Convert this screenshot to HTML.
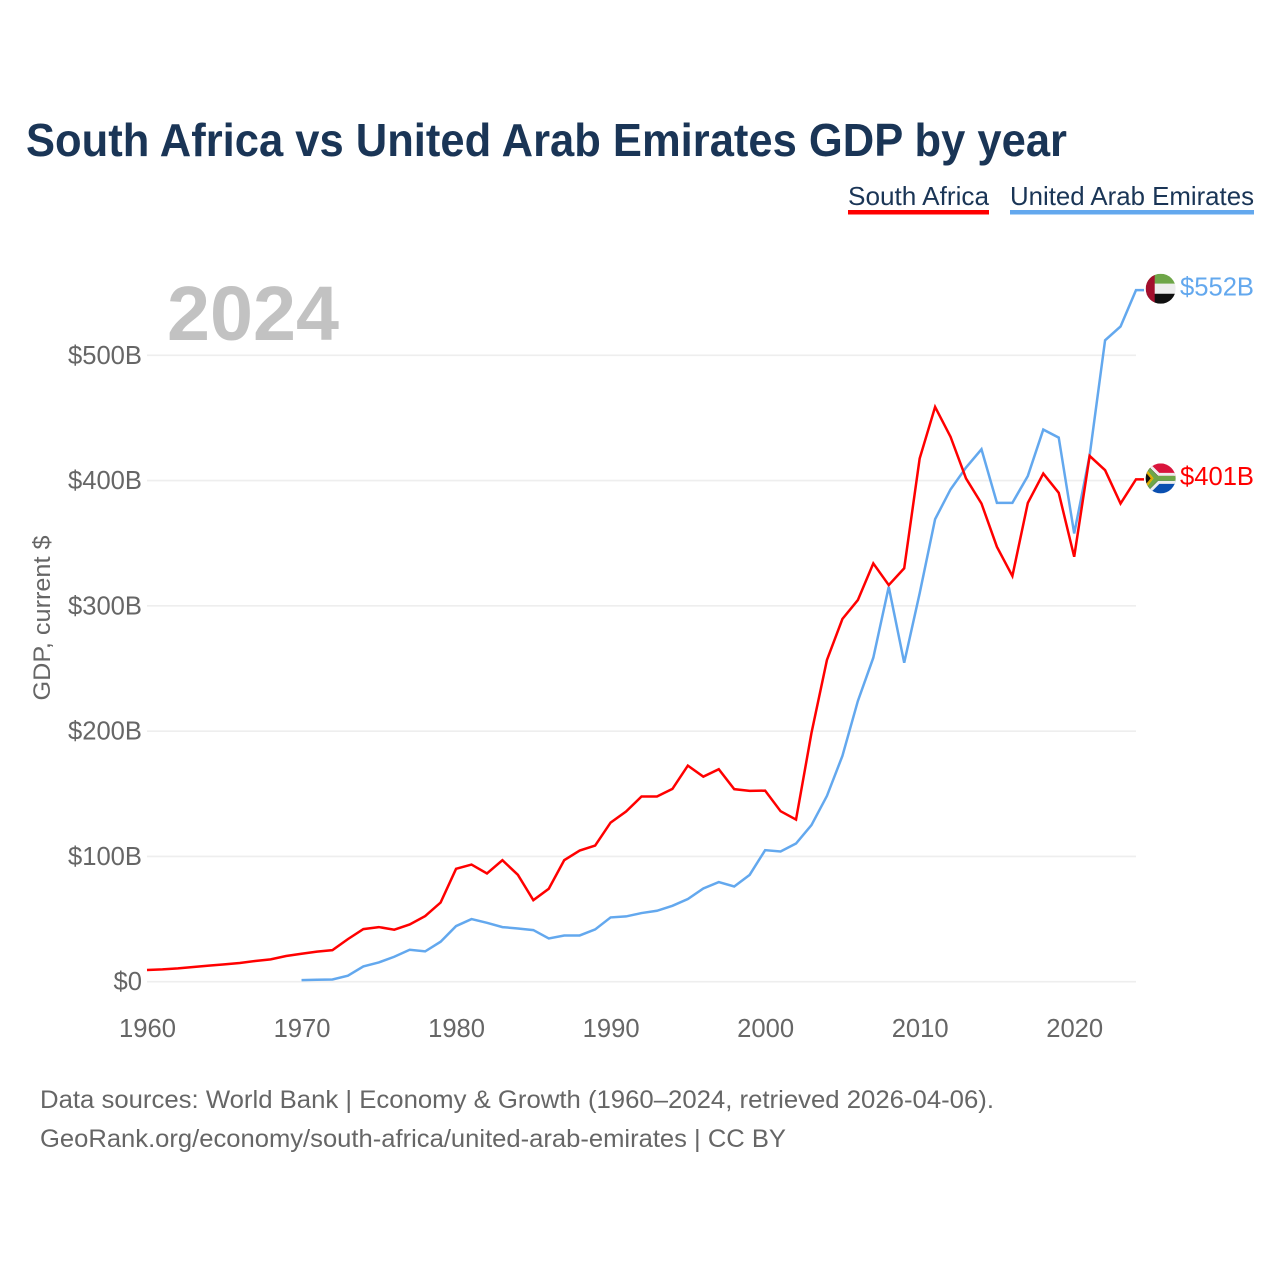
<!DOCTYPE html>
<html lang="en">
<head>
<meta charset="utf-8">
<title>South Africa vs United Arab Emirates GDP by year</title>
<style>
html,body{margin:0;padding:0;background:#fff;}
svg{display:block;font-family:"Liberation Sans",sans-serif;}
</style>
</head>
<body>
<svg id="chart" xmlns="http://www.w3.org/2000/svg" width="1280" height="1280" viewBox="0 0 1280 1280">
  <defs>
    <clipPath id="flag-clip-uae"><circle cx="15" cy="15" r="15"/></clipPath>
    <clipPath id="flag-clip-za"><circle cx="15" cy="15" r="15"/></clipPath>
  </defs>
  <rect width="1280" height="1280" fill="#fff"/>
  <text x="26" y="156" font-size="46" font-weight="700" fill="#1a3556" textLength="1041" lengthAdjust="spacingAndGlyphs">South Africa vs United Arab Emirates GDP by year</text>

  <g>
    <text x="848" y="205" font-size="26" fill="#1a3556" textLength="141" lengthAdjust="spacingAndGlyphs">South Africa</text>
    <rect x="848" y="210" width="141" height="4.5" fill="#ff0000"/>
  </g>
  <g>
    <text x="1010" y="205" font-size="26" fill="#1a3556" textLength="244" lengthAdjust="spacingAndGlyphs">United Arab Emirates</text>
    <rect x="1010" y="210" width="244" height="4.5" fill="#63a8ee"/>
  </g>

  <text x="167" y="340" font-size="77" font-weight="700" fill="#c2c2c2" textLength="172" lengthAdjust="spacingAndGlyphs">2024</text>

  <text transform="translate(50,618) rotate(-90)" text-anchor="middle" font-size="24" fill="#666" textLength="165" lengthAdjust="spacingAndGlyphs">GDP, current $</text>

  <g id="grid"></g>
  <g id="y-ticks"></g>
  <g id="x-ticks"></g>
  <g id="series"></g>

  <g id="flag-uae">
    <g clip-path="url(#flag-clip-uae)">
      <rect x="0" y="0" width="30" height="10" fill="#6ea648"/>
      <rect x="0" y="10" width="30" height="10" fill="#eeeeee"/>
      <rect x="0" y="20" width="30" height="10" fill="#0f0f0f"/>
      <rect x="0" y="0" width="9" height="30" fill="#a30f2d"/>
    </g>
  </g>
  <g id="flag-za">
    <g clip-path="url(#flag-clip-za)">
      <rect x="0" y="0" width="30" height="15" fill="#d9143c"/>
      <rect x="0" y="15" width="30" height="15" fill="#0a4fb0"/>
      <path d="M0 0 L15 15 L0 30 Z" fill="#111"/>
      <path d="M2 0 L13 11 L30 11 L30 19 L13 19 L2 30" fill="none" stroke="#eeeeee" stroke-width="3"/>
      <path d="M0 4 L11 15 L0 26 M11 15 L30 15" fill="none" stroke="#6ea648" stroke-width="5"/>
      <path d="M0 5 L8 15 L0 25" fill="#f2b900" opacity="0.9"/>
      <path d="M0 9 L5 15 L0 21 Z" fill="#111"/>
    </g>
  </g>

  <text id="label-uae" x="1180" font-size="26" fill="#63a8ee" textLength="74" lengthAdjust="spacingAndGlyphs"></text>
  <text id="label-za" x="1180" font-size="26" fill="#ff0000" textLength="74" lengthAdjust="spacingAndGlyphs"></text>

  <text x="40" y="1108" font-size="25" fill="#666" textLength="954" lengthAdjust="spacingAndGlyphs">Data sources: World Bank | Economy &amp; Growth (1960–2024, retrieved 2026-04-06).</text>
  <text x="40" y="1147" font-size="25" fill="#666" textLength="746" lengthAdjust="spacingAndGlyphs">GeoRank.org/economy/south-africa/united-arab-emirates | CC BY</text>
</svg>
<script>
const years = [1960,1961,1962,1963,1964,1965,1966,1967,1968,1969,1970,1971,1972,1973,1974,1975,1976,1977,1978,1979,1980,1981,1982,1983,1984,1985,1986,1987,1988,1989,1990,1991,1992,1993,1994,1995,1996,1997,1998,1999,2000,2001,2002,2003,2004,2005,2006,2007,2008,2009,2010,2011,2012,2013,2014,2015,2016,2017,2018,2019,2020,2021,2022,2023,2024];
const southAfrica = [9.3,9.8,10.6,11.7,12.8,13.8,14.9,16.5,17.8,20.5,22.3,24,25.2,34,42,43.6,41.5,45.7,52.4,63.2,90.1,93.5,86.4,97,85.3,65.1,74.2,97,104.7,108.7,127,135.8,147.8,147.8,153.9,172.5,163.7,169.6,153.7,152.3,152.5,136.1,129.4,198.6,256.8,289.5,304.6,333.9,316.6,330,417.6,458.8,434.9,401.7,381.7,347.1,323.8,382.2,405.6,390.2,339.2,419.7,408.3,381.7,401];
const uae = [null,null,null,null,null,null,null,null,null,null,1.3,1.6,1.8,4.8,12.2,15.4,19.9,25.5,24.2,31.9,44.4,50,47,43.6,42.5,41.2,34.5,36.9,36.9,41.7,51.3,52.1,54.8,56.6,60.6,66,74.4,79.5,76,85.3,105,103.9,110.3,125,148.3,180.2,224,258.6,315.2,254.6,310,369.2,393,410.4,425,382.2,382.2,403.7,440.7,434.3,357.8,420,512,523,552];
const yTickValues = [0,100,200,300,400,500];
const yTickLabels = ["$0","$100B","$200B","$300B","$400B","$500B"];
const xTickValues = [1960,1970,1980,1990,2000,2010,2020];
const endLabels = ["$401B","$552B"];

const SVGNS = "http://www.w3.org/2000/svg";
function xScale(year){ return 147 + (year - 1960) * (1136 - 147) / 64; }
function yScale(v){ return 981.7 - v * (981.7 - 355.3) / 500; }

const grid = document.getElementById("grid");
const yTicks = document.getElementById("y-ticks");
const xTicks = document.getElementById("x-ticks");
const seriesGroup = document.getElementById("series");

yTickValues.forEach(function(v, i){
  const line = document.createElementNS(SVGNS, "line");
  
  
  line.setAttribute("x1", xScale(1960));
  line.setAttribute("x2", xScale(2024));
  line.setAttribute("y1", yScale(v));
  line.setAttribute("y2", yScale(v));
  line.setAttribute("stroke", "#eeeeee");
  line.setAttribute("stroke-width", "1.6");
  grid.appendChild(line);

  const t = document.createElementNS(SVGNS, "text");
  
  
  t.setAttribute("x", 142);
  t.setAttribute("y", yScale(v) + 8.5);
  t.setAttribute("text-anchor", "end");
  t.setAttribute("font-size", "25.6");
  t.setAttribute("fill", "#666");
  t.textContent = yTickLabels[i];
  yTicks.appendChild(t);
});

xTickValues.forEach(function(year){
  const t = document.createElementNS(SVGNS, "text");
  
  
  t.setAttribute("x", xScale(year) + 0.5);
  t.setAttribute("y", 1037);
  t.setAttribute("text-anchor", "middle");
  t.setAttribute("font-size", "25.6");
  t.setAttribute("fill", "#666");
  t.textContent = String(year);
  xTicks.appendChild(t);
});

function buildPath(values){
  let d = "";
  let lastY = null;
  values.forEach(function(v, i){
    if (v === null) return;
    lastY = yScale(v);
    d += (d ? "L" : "M") + xScale(years[i]).toFixed(2) + " " + lastY.toFixed(2);
  });
  d += "L" + (xScale(years[years.length - 1]) + 8).toFixed(2) + " " + lastY.toFixed(2);
  return d;
}

const uaePath = document.createElementNS(SVGNS, "path");


uaePath.setAttribute("d", buildPath(uae));
uaePath.setAttribute("fill", "none");
uaePath.setAttribute("stroke", "#63a8ee");
uaePath.setAttribute("stroke-width", "2.5");
uaePath.setAttribute("stroke-linejoin", "miter");
seriesGroup.appendChild(uaePath);

const zaPath = document.createElementNS(SVGNS, "path");


zaPath.setAttribute("d", buildPath(southAfrica));
zaPath.setAttribute("fill", "none");
zaPath.setAttribute("stroke", "#ff0000");
zaPath.setAttribute("stroke-width", "2.5");
zaPath.setAttribute("stroke-linejoin", "miter");
seriesGroup.appendChild(zaPath);

const zaEndY = yScale(southAfrica[southAfrica.length - 1]);
const uaeEndY = yScale(uae[uae.length - 1]);
document.getElementById("flag-uae").setAttribute("transform", "translate(1145.7," + (uaeEndY - 16.4).toFixed(2) + ")");
document.getElementById("flag-za").setAttribute("transform", "translate(1145.7," + (zaEndY - 15.9).toFixed(2) + ")");
const labelZa = document.getElementById("label-za");
labelZa.setAttribute("y", (zaEndY + 5.5).toFixed(2));
labelZa.textContent = endLabels[0];
const labelUae = document.getElementById("label-uae");
labelUae.setAttribute("y", (uaeEndY + 5.5).toFixed(2));
labelUae.textContent = endLabels[1];
</script>
</body>
</html>
